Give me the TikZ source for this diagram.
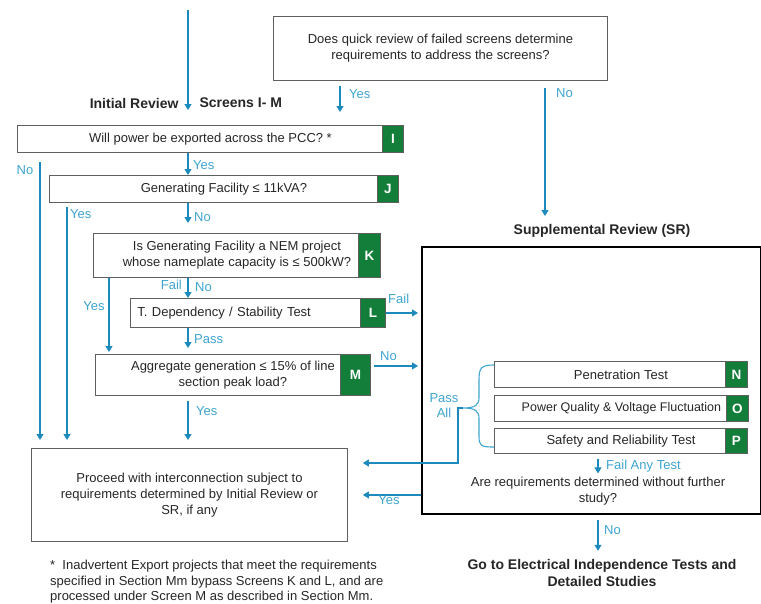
\documentclass[tikz,border=0pt]{standalone}
\usepackage{fontspec}
\setmainfont{Liberation Sans}
\usetikzlibrary{arrows.meta}
\definecolor{flowblue}{RGB}{28,138,188}
\definecolor{lblblue}{RGB}{62,164,208}
\definecolor{screengreen}{RGB}{18,126,58}
\definecolor{boxgray}{RGB}{95,95,95}
\definecolor{txtgray}{RGB}{38,38,38}

\begin{document}
\begin{tikzpicture}[x=1pt, y=-1pt,
  every node/.style={font=\fontsize{13}{16}\selectfont, text=txtgray},
  box/.style={draw=boxgray, line width=0.9pt, inner sep=0pt, anchor=north west, align=center},
  tag/.style={fill=screengreen, draw=boxgray, line width=0.9pt, text=white, font=\fontsize{13.5}{16}\selectfont\bfseries, anchor=north east, inner sep=0pt},
  lbl/.style={text=lblblue, font=\fontsize{13}{15}\selectfont, inner sep=1pt},
  head/.style={font=\fontsize{14}{17}\selectfont\bfseries},
  arr/.style={draw=flowblue, line width=1.1pt, -{Triangle[length=6pt,width=7pt]}},
  pipe/.style={draw=lblblue, line width=1.1pt}]
  \useasboundingbox (0,0) rectangle (761,603);

  % headings
  \node (initA) [head, anchor=east] at (182,103) {Initial Review};
  \node (initB) [head, anchor=west] at (196,103) {Screens I- M};
  \node (srT) [head] at (602,231) {Supplemental Review (SR)};
  \node (go) [head, align=center] at (602,573) {Go to Electrical Independence Tests and\\Detailed Studies};

  % initial review screens
  \node (Q) [box, minimum width=334, minimum height=64] at (273,16) {Does quick review of failed screens determine\\requirements to address the screens?};
  \node (I) [box, minimum width=386, minimum height=27] at (17,125) {Will power be exported across the PCC? *};
  \node (tI) [tag, minimum width=21, minimum height=27] at (I.north east) {I};
  \node (J) [box, minimum width=349, minimum height=27] at (49,175) {Generating Facility ≤ 11kVA?};
  \node (tJ) [tag, minimum width=21, minimum height=27] at (J.north east) {J};
  \node (K) [box, minimum width=287, minimum height=44] at (93,233) {Is Generating Facility a NEM project\\whose nameplate capacity is ≤ 500kW?};
  \node (tK) [tag, minimum width=22, minimum height=44] at (K.north east) {K};
  \node (L) [box, minimum height=29, text width=241, align=left, inner xsep=7pt] at (130,298) {T. Dependency / Stability Test};
  \node (tL) [tag, minimum width=25, minimum height=29] at (L.north east) {L};
  \node (M) [box, minimum width=275, minimum height=41] at (95,354) {Aggregate generation ≤ 15\% of line\\section peak load?};
  \node (tM) [tag, minimum width=30, minimum height=41] at (M.north east) {M};
  \node (pro) [box, minimum width=316, minimum height=93] at (31,448) {Proceed with interconnection subject to\\requirements determined by Initial Review or\\SR, if any};

  % supplemental review
  \node (SR) [box, draw=black, line width=2pt, minimum width=339, minimum height=267] at (421,246) {};
  \node (N) [box, minimum width=253, minimum height=26] at (494,361) {Penetration Test};
  \node (tN) [tag, minimum width=22, minimum height=26] at (N.north east) {N};
  \node (O) [box, minimum width=254, minimum height=26, font=\fontsize{12.5}{15}\selectfont] at (494,395) {Power Quality \& Voltage Fluctuation};
  \node (tO) [tag, minimum width=22, minimum height=26] at (O.north east) {O};
  \node (P) [box, minimum width=253, minimum height=25] at (494,428) {Safety and Reliability Test};
  \node (tP) [tag, minimum width=22, minimum height=25] at (P.north east) {P};
  \node (req) [align=center] at (598,491) {Are requirements determined without further\\study?};

  \node (note) [anchor=north west, align=left, inner sep=0pt, font=\fontsize{13}{15.5}\selectfont] at (50,560) {*\ \ Inadvertent Export projects that meet the requirements\\specified in Section Mm bypass Screens K and L, and are\\processed under Screen M as described in Section Mm.};

  % free ends
  \coordinate (top) at (188,10);
  \coordinate (topEnd) at (188,110);
  \coordinate (qYes) at (340,112);
  \coordinate (qNo) at (545,216);
  \coordinate (noI) at (40,162);
  \coordinate (yesJ) at (67,207);
  \coordinate (yesK) at (109,0);
  \coordinate (braceTip) at (463,408);
  \coordinate (passDn) at (458,463);

  % connectors
  \draw[arr] (top) -- (topEnd);
  \draw[arr] ([yshift=-5pt]Q.south -| qYes) -- (qYes);
  \draw[arr] ([yshift=-7pt]Q.south -| qNo) -- (qNo);
  \draw[arr] (I.south -| top) -- (J.north -| top);
  \draw[arr] (noI) -- ([yshift=8pt]pro.north -| noI);
  \draw[arr] (yesJ) -- ([yshift=8pt]pro.north -| yesJ);
  \draw[arr] (J.south -| top) -- ([yshift=10pt]K.north -| top);
  \draw[arr] (K.south -| top) -- (L.north -| top);
  \draw[arr] (K.south -| yesK) -- ([yshift=2pt]M.north -| yesK);
  \draw[arr] (L.south -| top) -- ([yshift=6pt]M.north -| top);
  \draw[arr] ([yshift=-5pt]M.south -| top) -- ([yshift=8pt]pro.north -| top);
  \draw[arr] (tL.east) -- ([xshift=-3pt]SR.west |- tL.east);
  \draw[arr] ([xshift=3pt,yshift=9pt]tM.east) coordinate (mNo) -- ([xshift=-3pt]SR.west |- mNo);
  \draw[arr] (SR.west |- pro.east) -- ([xshift=15pt]pro.east);
  \draw[pipe] (494,365) .. controls (481,365) and (479,368) .. (479,380) -- (479,398)
    .. controls (479,405) and (475,408) .. (braceTip)
    .. controls (475,408) and (479,411) .. (479,418) -- (479,436)
    .. controls (479,446) and (481,447) .. (494,447);
  \draw[arr] (braceTip) -- (braceTip -| passDn) -- (passDn) -- ([xshift=15pt]pro.east |- passDn);
  \draw[arr] ([yshift=-5pt]P.south -| req) -- (req.north);
  \draw[arr] ([yshift=-5pt]SR.south -| req) -- ([yshift=5pt]go.north -| req);

  % labels
  \node [lbl, anchor=west] at (348,94) {Yes};
  \node [lbl, anchor=west] at (555,93) {No};
  \node [lbl, anchor=west] at (192,165) {Yes};
  \node [lbl] at (25,170) {No};
  \node [lbl, anchor=west] at (69,214) {Yes};
  \node [lbl, anchor=west] at (193,217) {No};
  \node [lbl, anchor=east] at (183,285) {Fail};
  \node [lbl, anchor=west] at (194,287) {No};
  \node [lbl] at (94,306) {Yes};
  \node [lbl, anchor=west] at (387,299) {Fail};
  \node [lbl, anchor=west] at (193,339) {Pass};
  \node [lbl, anchor=west] at (379,356) {No};
  \node [lbl, anchor=west] at (195,411) {Yes};
  \node [lbl, align=center, font=\fontsize{13}{15}\selectfont] at (444,406) {Pass\\All};
  \node [lbl, anchor=west] at (605,466) {Fail Any Test};
  \node [lbl] at (389,500) {Yes};
  \node [lbl, anchor=west] at (603,530) {No};
\end{tikzpicture}
\end{document}
